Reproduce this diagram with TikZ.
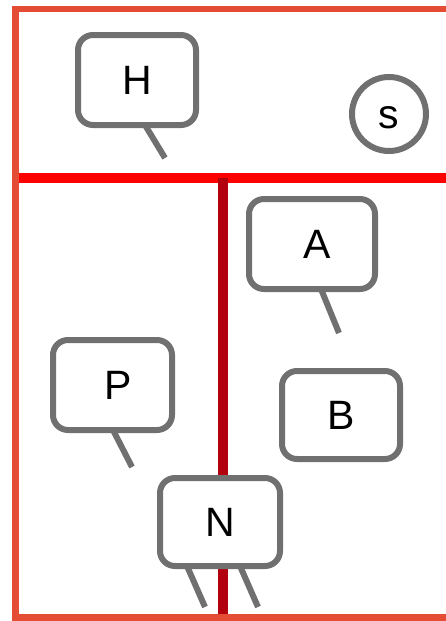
\documentclass[tikz,border=0pt]{standalone}
\usepackage{fontspec}
\setmainfont{Liberation Sans}
\definecolor{framecol}{RGB}{228,76,52}
\definecolor{redline}{RGB}{255,0,0}
\definecolor{darkredline}{RGB}{178,0,14}
\definecolor{boxgray}{RGB}{112,112,112}
\tikzset{
  callout/.style={draw=boxgray, line width=6pt, rounded corners=15pt, fill=white,
    inner sep=0pt, font=\fontsize{41}{41}\selectfont},
  roundnode/.style={circle, draw=boxgray, line width=6pt, fill=white, inner sep=0pt,
    minimum size=74pt, font=\fontsize{41}{41}\selectfont},
  tail/.style={draw=boxgray, line width=6pt},
  framestyle/.style={draw=framecol, line width=6.5pt},
  hline/.style={draw=redline, line width=10pt},
  vline/.style={draw=darkredline, line width=10pt}
}
\begin{document}
\begin{tikzpicture}[x=1pt,y=-1pt]
\useasboundingbox (0,0) rectangle (446,621);
% lines
\coordinate (hl) at (15,178);
\coordinate (hr) at (446,178);
\coordinate (vt) at (223,178);
\coordinate (vb) at (223,618);
\draw[hline] (hl) -- (hr);
\draw[vline] (vt) -- (vb);
% frame
\coordinate (f1) at (446,9);
\coordinate (f2) at (15.5,9);
\coordinate (f3) at (15.5,617.5);
\coordinate (f4) at (446,617.5);
\draw[framestyle] (f1) -- (f2) -- (f3) -- (f4);
% nodes
\node[callout, minimum width=118pt, minimum height=90pt] (H) at (137,80) {H};
\node[roundnode] (s) at (389,114) {\raisebox{-4pt}[\height][\depth]{s}};
\node[callout, minimum width=126pt, minimum height=90pt] (A) at (312,244) {\hspace*{11pt}A};
\node[callout, minimum width=118pt, minimum height=88pt] (B) at (341,415) {B};
\node[callout, minimum width=119pt, minimum height=90pt] (P) at (112.5,385) {\hspace*{11pt}P};
\node[callout, minimum width=120pt, minimum height=88pt] (N) at (220,522) {N};
% tail ends
\coordinate (tH) at (165,158);
\coordinate (tA) at (339,333);
\coordinate (tP) at (132,467);
\coordinate (tN1) at (205,607);
\coordinate (tN2) at (258,607);
\draw[tail] ([xshift=8pt,yshift=3pt]H.south) -- (tH);
\draw[tail] ([xshift=9pt,yshift=3pt]A.south) -- (tA);
\draw[tail] ([xshift=0.5pt,yshift=3pt]P.south) -- (tP);
\draw[tail] ([xshift=-33pt,yshift=3pt]N.south) -- (tN1);
\draw[tail] ([xshift=20pt,yshift=3pt]N.south) -- (tN2);
\end{tikzpicture}
\end{document}
